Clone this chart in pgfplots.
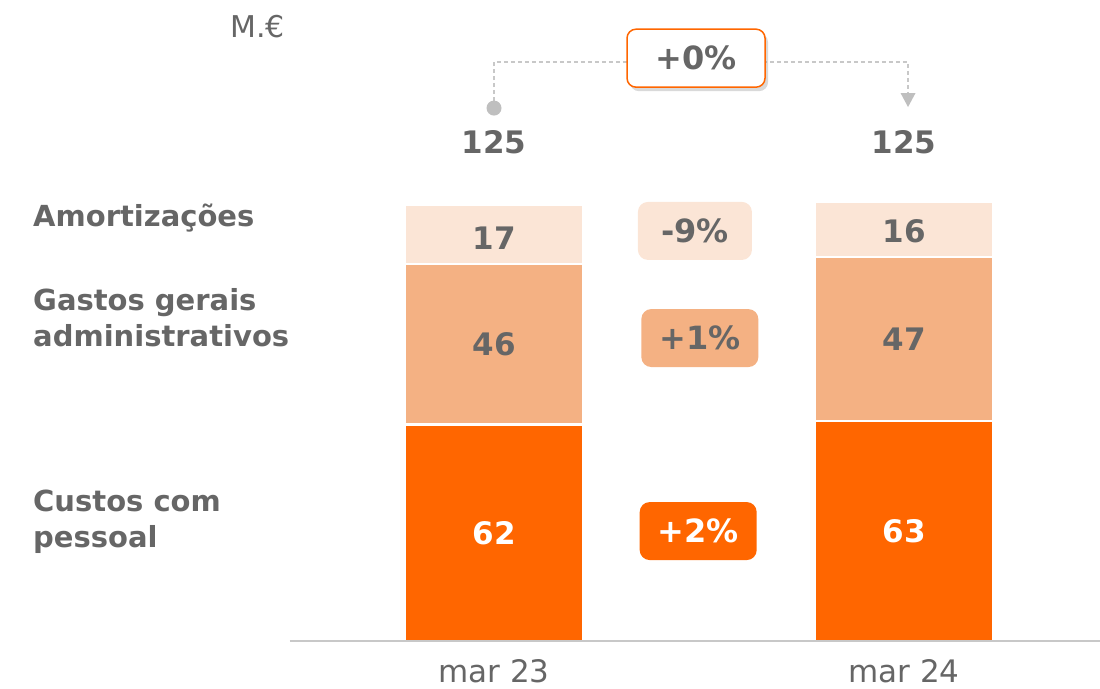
\documentclass[border=0pt]{standalone}
\usepackage{pgfplots}
\pgfplotsset{compat=1.18}
\usepackage{fontspec}
\setmainfont{DejaVu Sans}
\usetikzlibrary{shadows}
\definecolor{dorange}{HTML}{FF6600}
\definecolor{morange}{HTML}{F4B183}
\definecolor{lorange}{HTML}{FBE5D6}
\definecolor{tgray}{HTML}{666666}
\definecolor{lgray}{HTML}{BFBFBF}
\definecolor{axgray}{HTML}{C8C8C8}
\begin{document}
\begin{tikzpicture}
\begin{axis}[
 x=410bp, y=3.49bp, scale only axis,
 xmin=-0.4976, xmax=1.478, ymin=0, ymax=183.67,
 axis x line*=bottom, axis y line=none,
 x axis line style={draw=axgray, line width=1.5bp, -},
 xtick={0,1}, xticklabels={mar 23, mar 24},
 major tick length=0,
 xticklabel style={font=\fontsize{31bp}{36bp}\selectfont, text=tgray, yshift=-15bp},
 ytick=\empty,
 ybar stacked, bar width=178bp,
 clip=false,
]
\addplot[fill=dorange, draw=white, line width=2.5bp] coordinates {(0,62) (1,63)};
\addplot[fill=morange, draw=white, line width=2.5bp] coordinates {(0,46) (1,47)};
\addplot[fill=lorange, draw=white, line width=2.5bp] coordinates {(0,17) (1,16)};

\coordinate (tl) at (axis cs:-1.2049,183.67);
\coordinate (br) at (axis cs:1.478,-13.75);
\coordinate (ax0) at (axis cs:-0.4976,0);
\coordinate (ax1) at (axis cs:1.478,0);
\coordinate (v62) at (axis cs:0,31);
\coordinate (v63) at (axis cs:1,31.5);
\coordinate (v46) at (axis cs:0,85);
\coordinate (v47) at (axis cs:1,86.5);
\coordinate (v17) at (axis cs:0,115.5);
\coordinate (v16) at (axis cs:1,117.5);
\coordinate (t0) at (axis cs:0,143);
\coordinate (t1) at (axis cs:1,143);
\coordinate (c0) at (axis cs:0,152.7);
\coordinate (c1) at (axis cs:1.0098,165.9);
\coordinate (c2) at (axis cs:1.0098,157);
\coordinate (a1) at (axis cs:1.0098,153);
\coordinate (p0) at (axis cs:0.4927,167);
\coordinate (p9) at (axis cs:0.49,117.5);
\coordinate (p1) at (axis cs:0.502,86.8);
\coordinate (p2) at (axis cs:0.498,31.5);
\coordinate (l1) at (axis cs:-1.1244,118.8);
\coordinate (l2) at (axis cs:-1.1244,94.8);
\coordinate (l3) at (axis cs:-1.1244,84.5);
\coordinate (l4) at (axis cs:-1.1244,37.0);
\coordinate (l5) at (axis cs:-1.1244,26.7);
\coordinate (me) at (axis cs:-0.644,173.0);
\end{axis}

\draw[axgray, line width=1.5bp] (ax0) -- (ax1);

% segment values
\node[text=white, font=\bfseries\fontsize{31bp}{36bp}\selectfont] at (v62) {62};
\node[text=white, font=\bfseries\fontsize{31bp}{36bp}\selectfont] at (v63) {63};
\node[text=tgray, font=\bfseries\fontsize{31bp}{36bp}\selectfont] at (v46) {46};
\node[text=tgray, font=\bfseries\fontsize{31bp}{36bp}\selectfont] at (v47) {47};
\node[text=tgray, font=\bfseries\fontsize{31bp}{36bp}\selectfont] at (v17) {17};
\node[text=tgray, font=\bfseries\fontsize{31bp}{36bp}\selectfont] at (v16) {16};
\node[text=tgray, font=\bfseries\fontsize{31bp}{36bp}\selectfont] at (t0) {125};
\node[text=tgray, font=\bfseries\fontsize{31bp}{36bp}\selectfont] at (t1) {125};

% connector
\draw[axgray, line width=1.3bp, dash pattern=on 4bp off 3bp] (c0) |- (c1) -- (c2);
\fill[lgray] (c0) circle (7.5bp);
\fill[lgray] (a1) -- ++(-7.5bp,14bp) -- ++(15bp,0) -- cycle;

\node[draw=dorange, line width=1.5bp, fill=white, rounded corners=9bp,
  minimum width=138bp, minimum height=58bp, text=tgray,
  drop shadow={opacity=0.3, shadow xshift=3bp, shadow yshift=-4bp},
  font=\bfseries\fontsize{32bp}{36bp}\selectfont] at (p0) {+0\%};

\node[rounded corners=10bp, minimum height=58bp, font=\bfseries\fontsize{32bp}{36bp}\selectfont, fill=lorange, minimum width=114bp, text=tgray] at (p9) {-9\%};
\node[rounded corners=10bp, minimum height=58bp, font=\bfseries\fontsize{32bp}{36bp}\selectfont, fill=morange, minimum width=117bp, text=tgray] at (p1) {+1\%};
\node[rounded corners=10bp, minimum height=58bp, font=\bfseries\fontsize{32bp}{36bp}\selectfont, fill=dorange, minimum width=117bp, text=white] at (p2) {+2\%};

% left labels
\node[anchor=base west, inner sep=0pt, text=tgray, font=\bfseries\fontsize{29bp}{32bp}\selectfont] at (l1) {Amortizações};
\node[anchor=base west, inner sep=0pt, text=tgray, font=\bfseries\fontsize{29bp}{32bp}\selectfont] at (l2) {Gastos gerais};
\node[anchor=base west, inner sep=0pt, text=tgray, font=\bfseries\fontsize{29bp}{32bp}\selectfont] at (l3) {administrativos};
\node[anchor=base west, inner sep=0pt, text=tgray, font=\bfseries\fontsize{29bp}{32bp}\selectfont] at (l4) {Custos com};
\node[anchor=base west, inner sep=0pt, text=tgray, font=\bfseries\fontsize{29bp}{32bp}\selectfont] at (l5) {pessoal};
\node[anchor=base west, inner sep=0pt, text=tgray, font=\fontsize{30bp}{32bp}\selectfont] at (me) {M.€};

\pgfresetboundingbox
\useasboundingbox (tl) rectangle (br);
\end{tikzpicture}
\end{document}
